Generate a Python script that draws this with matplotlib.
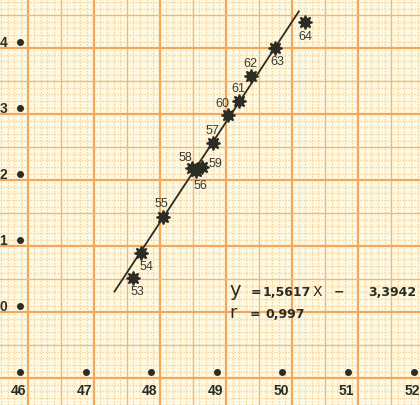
import numpy as np
import matplotlib
matplotlib.use('Agg')
import matplotlib.pyplot as plt

# ---------------- data ----------------
point_labels = ['53', '54', '55', '58', '56', '59', '57', '60', '61', '62', '63', '64']
x_vals = [47.727, 47.840, 48.175, 48.617, 48.683, 48.770, 48.938, 49.171, 49.338, 49.521, 49.892, 50.349]
y_vals = [70.415, 70.794, 71.348, 72.082, 72.045, 72.097, 72.465, 72.889, 73.106, 73.480, 73.909, 74.294]
fit_line_x = [47.433, 50.258]
fit_line_y = [70.203, 74.470]
x_ticks = [46, 47, 48, 49, 50, 51, 52]
x_tick_labels = ['46', '47', '48', '49', '50', '51', '52']
y_ticks = [70, 71, 72, 73, 74]
y_tick_labels = ['0', '1', '2', '3', '4']   # only the visible (last) digit survives the scan's left edge
eq_slope = '1,5617'
eq_intercept = '3,3942'
eq_r = '0,997'

# ---------------- style / layout ----------------
W, H = 420, 406
INK = '#2c2c24'
PAPER = '#fdf9e2'
MAJOR = '#f3a75a'
MEDIUM = '#f5b775'
MINOR = '#f7d39c'

# label offsets in pixels (dx right, dy up)
label_offsets_px = [(4, -13), (6, -13), (-1, 14), (-6, 11), (4, -14), (14, 4),
                    (0, 13), (-6, 12), (-1, 13), (-1, 13), (2, -13), (0, -14)]

fig = plt.figure(figsize=(W / 100, H / 100), dpi=100)
fig.patch.set_facecolor(PAPER)
ax = fig.add_axes([0, 0, 1, 1])
ax.set_facecolor(PAPER)
ax.set_xlim(45.695, 52.098)
ax.set_ylim(68.495, 74.647)
ax.axis('off')

# graph paper (slightly offset from the printed tick dots, as in the scan)
gx0, gxstep = 46.115, 1.008
gy0, gystep = 68.9, 1.0
for k in range(-20, 80):
    xv = gx0 + k * gxstep / 10
    if k % 10 == 0:
        ax.axvline(xv, color=MAJOR, lw=1.6, zorder=1)
    elif k % 5 == 0:
        ax.axvline(xv, color=MEDIUM, lw=1.0, zorder=1)
    else:
        ax.axvline(xv, color=MINOR, lw=0.9, ls=(0, (1.2, 1.2)), zorder=0.5)
for k in range(-10, 70):
    yv = gy0 + k * gystep / 10
    if k % 10 == 0:
        ax.axhline(yv, color=MAJOR, lw=1.6, zorder=1)
    elif k % 5 == 0:
        ax.axhline(yv, color=MEDIUM, lw=1.0, zorder=1)
    else:
        ax.axhline(yv, color=MINOR, lw=0.9, ls=(0, (1.2, 1.2)), zorder=0.5)

# tick dots
ax.plot(x_ticks, [69] * len(x_ticks), 'o', color=INK, ms=4, zorder=3)
ax.plot([46] * len(y_ticks), y_ticks, 'o', color=INK, ms=4, zorder=3)

tick_font = dict(family=['Liberation Sans Narrow', 'Liberation Sans', 'DejaVu Sans'],
                 weight='bold', color=INK, fontsize=10)
for xv, lab in zip(x_ticks, x_tick_labels):
    ax.annotate(lab, (xv, 69), xytext=(-1, -18 * 0.72), textcoords='offset points',
                ha='center', va='center', **tick_font)
for yv, lab in zip(y_ticks, y_tick_labels):
    ax.annotate(lab, (46, yv), xytext=(-13 * 0.72, 0), textcoords='offset points',
                ha='right', va='center', **tick_font)

# regression line
ax.plot(fit_line_x, fit_line_y, color=INK, lw=1.3, zorder=4, solid_capstyle='butt')

# data points
ax.plot(x_vals, y_vals, ls='none', marker=(8, 1, 0), ms=10, color=INK,
        markeredgecolor=INK, markeredgewidth=1.2, zorder=5)

for xv, yv, lab, (dx, dy) in zip(x_vals, y_vals, point_labels, label_offsets_px):
    ax.annotate(lab, (xv, yv), xytext=(dx * 0.72, dy * 0.72), textcoords='offset points',
                ha='center', va='center', fontsize=9, color='#3a3a32',
                family=['Liberation Sans', 'DejaVu Sans'], zorder=6)

# equation text (pixel positions -> figure fraction)
def fpos(px, py):
    return px / W, 1 - py / H

eq_pieces = [
    ('y', 229, 296, dict(fontsize=14, family='DejaVu Sans')),
    ('=', 251, 296, dict(fontsize=9, family='DejaVu Sans', weight='bold')),
    (eq_slope, 263, 296, dict(fontsize=9, family='DejaVu Sans', weight='bold')),
    ('X', 313, 296, dict(fontsize=10, family='DejaVu Sans')),
    ('\u2212', 334, 296, dict(fontsize=9, family='DejaVu Sans', weight='bold')),
    (eq_intercept, 368, 296, dict(fontsize=9, family='DejaVu Sans', weight='bold')),
    ('r', 229, 318, dict(fontsize=13, family='DejaVu Sans')),
    ('=', 250, 318, dict(fontsize=9, family='DejaVu Sans', weight='bold')),
    (eq_r, 265, 318, dict(fontsize=9, family='DejaVu Sans', weight='bold')),
]
for txt, px, py, kw in eq_pieces:
    fx, fy = fpos(px, py)
    fig.text(fx, fy, txt, ha='left', va='baseline', color=INK, zorder=7, **kw)

fig.savefig('out.png', dpi=100, facecolor=PAPER)
